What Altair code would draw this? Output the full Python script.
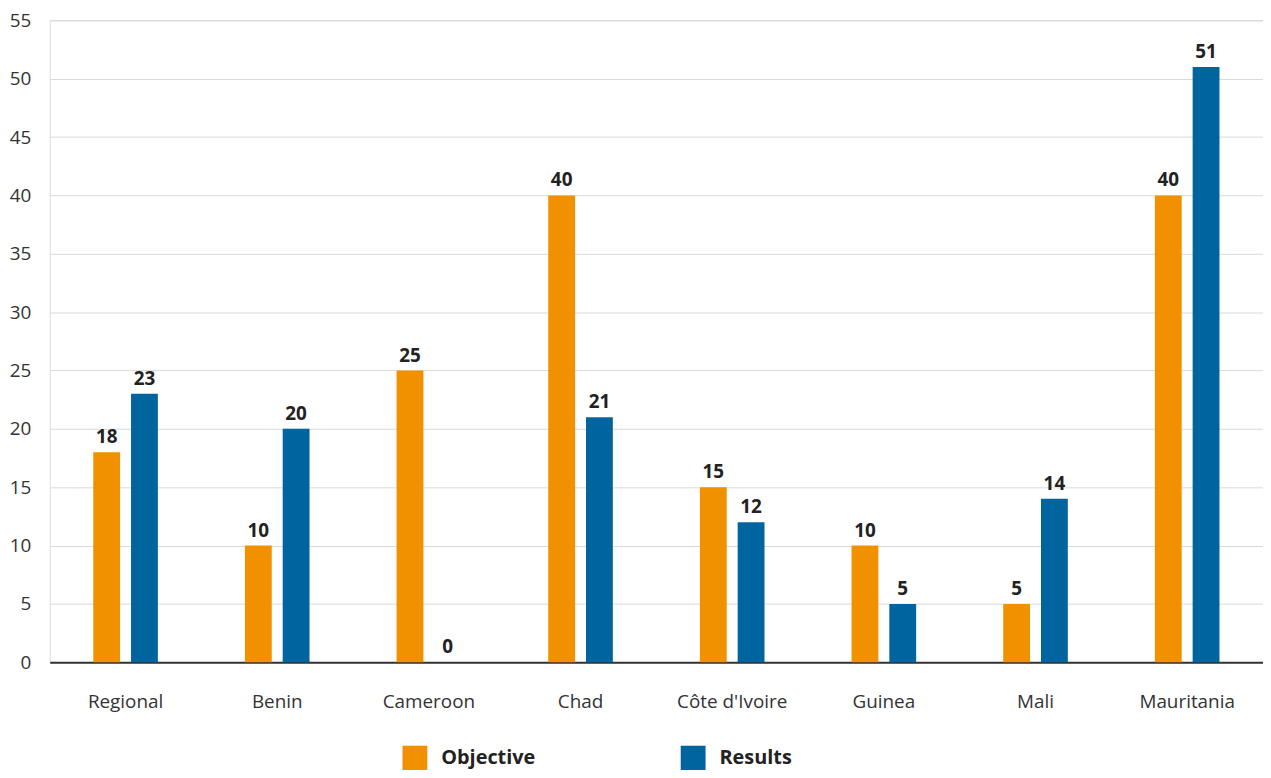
import altair as alt
import pandas as pd

countries = ["Regional", "Benin", "Cameroon", "Chad", "Côte d'Ivoire", "Guinea", "Mali", "Mauritania"]
objective = [18, 10, 25, 40, 15, 10, 5, 40]
results = [23, 20, 0, 21, 12, 5, 14, 51]
series = ["Objective", "Results"]
colors = ["#F29100", "#00649F"]

rows = []
for c, o, r in zip(countries, objective, results):
    rows.append({"country": c, "series": "Objective", "value": o})
    rows.append({"country": c, "series": "Results", "value": r})
df = pd.DataFrame(rows)

FONT = "Open Sans"

x = alt.X("country:N", sort=countries, title=None,
          scale=alt.Scale(paddingInner=0.076, paddingOuter=0.038),
          axis=alt.Axis(labelAngle=0, labelFontSize=19, labelColor="#333333", labelFont=FONT,
                        labelPadding=31, ticks=False, domain=True, domainColor="#333333",
                        domainWidth=2, grid=False))
xo = alt.XOffset("series:N", sort=series,
                 scale=alt.Scale(paddingInner=0.29, paddingOuter=1))
y = alt.Y("value:Q", title=None,
          scale=alt.Scale(domain=[0, 55], nice=False),
          axis=alt.Axis(values=list(range(0, 56, 5)), labelFontSize=19, labelColor="#333333",
                        labelFont=FONT, labelPadding=19, ticks=False, domain=False,
                        gridColor="#D9D9D9", gridWidth=1))
color = alt.Color("series:N", sort=series,
                  scale=alt.Scale(domain=series, range=colors),
                  legend=alt.Legend(title=None, orient="none", direction="horizontal",
                                    legendX=355, legendY=730, symbolType="square",
                                    symbolSize=625, symbolStrokeWidth=0, symbolOpacity=1,
                                    labelFontSize=20, labelFontWeight="bold", labelFont=FONT,
                                    labelColor="#222222", labelOffset=14, columnPadding=146))

bars = alt.Chart(df).mark_bar(size=27).encode(x=x, xOffset=xo, y=y, color=color)
labels = alt.Chart(df).mark_text(dy=-15, fontSize=19, fontWeight="bold", font=FONT,
                                 color="#222222").encode(
    x=alt.X("country:N", sort=countries), xOffset=xo, y=y, text="value:Q")

chart = (bars + labels).properties(
    width=1221, height=646,
    padding={"left": 42, "top": 10, "right": 0, "bottom": 106},
    autosize=alt.AutoSizeParams(type="none"),
).configure_view(stroke=None).configure(font=FONT)

chart.save("out.html", embed_options={"renderer": "svg", "actions": False})
